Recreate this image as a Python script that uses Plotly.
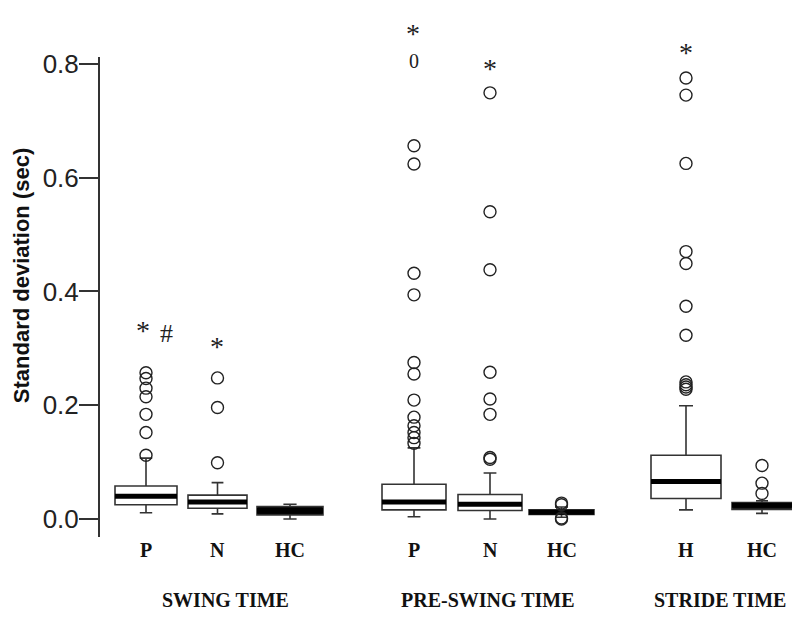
import plotly.graph_objects as go

# ---- data ----
labels = ["P", "N", "HC", "P", "N", "HC", "H", "HC"]
group_titles = ["SWING TIME", "PRE-SWING TIME", "STRIDE TIME"]

q1 = [0.025, 0.019, 0.007, 0.016, 0.015, 0.008, 0.036, 0.017]
median = [0.040, 0.030, 0.0145, 0.030, 0.026, 0.012, 0.066, 0.024]
q3 = [0.058, 0.042, 0.022, 0.061, 0.043, 0.016, 0.112, 0.029]
lowerfence = [0.011, 0.009, 0.000, 0.004, 0.000, 0.003, 0.016, 0.010]
upperfence = [0.107, 0.064, 0.026, 0.125, 0.081, 0.021, 0.199, 0.032]

outliers = [
    [0.257, 0.247, 0.230, 0.215, 0.184, 0.152, 0.112],
    [0.248, 0.196, 0.099],
    [],
    [0.656, 0.624, 0.432, 0.394, 0.275, 0.255, 0.209, 0.179, 0.164, 0.152, 0.143, 0.133],
    [0.749, 0.540, 0.438, 0.258, 0.211, 0.184, 0.108, 0.105],
    [0.028, 0.025, 0.002, 0.000],
    [0.775, 0.745, 0.625, 0.470, 0.449, 0.374, 0.323, 0.241, 0.236, 0.232, 0.228],
    [0.094, 0.063, 0.045],
]

# significance marks: (text, box index, value)
mark_text = ["*", "#", "*", "*", "0", "*", "*"]
mark_box = [0, 0, 1, 3, 3, 4, 6]
mark_value = [0.337, 0.326, 0.309, 0.889, 0.828, 0.828, 0.856]

y_tickvals = [0.0, 0.2, 0.4, 0.6, 0.8]
y_ticktext = ["0.0", "0.2", "0.4", "0.6", "0.8"]

# ---- layout / style (positions in plot x units) ----
Y_MIN, Y_MAX = -0.0316, 0.812
positions = [146, 217.5, 290, 414, 490, 561.5, 686, 762]
widths = [62, 59, 66, 64, 64, 65, 70, 60]
fills = ["white", "white", "#111", "white", "white", "#111", "white", "#111"]
median_w = [5, 5, 6, 5, 5, 5, 5, 5]
mark_dx = [-3, 20, -1, -1, 0, 0, 0]
mark_size = [28, 26, 28, 28, 20, 28, 28]
mark_shift = [-3, 0, -3, -3, 0, -3, -3]
title_x = [225, 488, 720]

fig = go.Figure()

for i in range(len(labels)):
    fig.add_trace(go.Box(
        x=[positions[i]], q1=[q1[i]], median=[median[i]], q3=[q3[i]],
        lowerfence=[lowerfence[i]], upperfence=[upperfence[i]],
        width=widths[i], whiskerwidth=0.2, boxpoints=False,
        fillcolor=fills[i], line=dict(color="#333", width=1.6),
        showlegend=False, hoverinfo="skip",
    ))
    # thick median band
    fig.add_trace(go.Scatter(
        x=[positions[i] - widths[i] / 2, positions[i] + widths[i] / 2],
        y=[median[i], median[i]], mode="lines",
        line=dict(color="black", width=median_w[i]),
        showlegend=False, hoverinfo="skip",
    ))
    if outliers[i]:
        fig.add_trace(go.Scatter(
            x=[positions[i]] * len(outliers[i]), y=outliers[i], mode="markers",
            marker=dict(symbol="circle-open", size=12, color="#222",
                        line=dict(width=1.4, color="#222")),
            showlegend=False, hoverinfo="skip", cliponaxis=False,
        ))

ann = []
for t, b, v, dx, s, sh in zip(mark_text, mark_box, mark_value, mark_dx, mark_size, mark_shift):
    ann.append(dict(
        x=positions[b] + dx, y=(v - Y_MIN) / (Y_MAX - Y_MIN), xref="x", yref="paper",
        text=t, showarrow=False, yshift=sh,
        font=dict(family="Liberation Serif", size=s, color="#222"),
    ))

for p, lab in zip(positions, labels):
    ann.append(dict(
        x=p, y=-0.054, xref="x", yref="paper", text="<b>%s</b>" % lab,
        showarrow=False, font=dict(family="Liberation Serif", size=20, color="#111"),
    ))
for tx, tt in zip(title_x, group_titles):
    ann.append(dict(
        x=tx, y=-0.158, xref="x", yref="paper", text="<b>%s</b>" % tt,
        showarrow=False, font=dict(family="Liberation Serif", size=20, color="#111"),
    ))
ann.append(dict(
    x=-0.111, y=0.546, xref="paper", yref="paper", xanchor="center", yanchor="middle",
    text="<b>Standard deviation (sec)</b>", textangle=-90, showarrow=False,
    font=dict(family="Liberation Sans", size=22, color="#111"),
))

fig.update_layout(
    width=792, height=626,
    margin=dict(l=92, r=0, t=49, b=97),
    paper_bgcolor="white", plot_bgcolor="white",
    annotations=ann,
    xaxis=dict(range=[100, 800], visible=False, showgrid=False, zeroline=False),
    yaxis=dict(
        range=[Y_MIN, Y_MAX], tickvals=y_tickvals, ticktext=y_ticktext,
        ticks="outside", ticklen=19, tickwidth=2, tickcolor="#333",
        showline=True, linewidth=2, linecolor="#333",
        showgrid=False, zeroline=False, ticklabelstandoff=-5,
        tickfont=dict(family="Liberation Sans", size=26, color="#222"),
    ),
)

fig.write_html("out.html")
